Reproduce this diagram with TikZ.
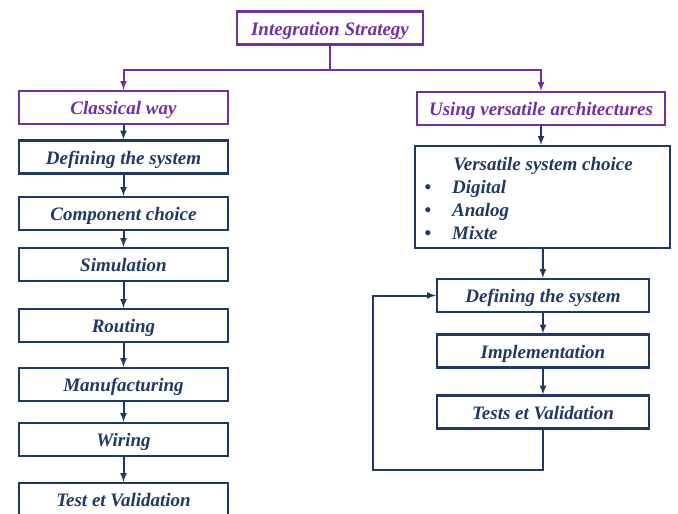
\documentclass[tikz,border=0pt]{standalone}
\usepackage{fontspec}
\setmainfont{Liberation Serif}
\definecolor{stratpurple}{RGB}{112,48,160}
\definecolor{stepnavy}{RGB}{31,56,100}
\tikzset{
  box/.style={draw, line width=2.2pt, minimum height=33pt, inner sep=0pt,
    text height=15pt, text depth=1pt,
    font=\fontsize{19}{23}\selectfont\bfseries\itshape},
  purplebox/.style={box, draw=stratpurple, text=stratpurple},
  navybox/.style={box, draw=stepnavy, text=stepnavy},
  purpleline/.style={line width=2pt, stratpurple},
  navyline/.style={line width=2pt, stepnavy},
}
\begin{document}
\begin{tikzpicture}[>=latex, x=1pt, y=-1pt]
\useasboundingbox (0,0) rectangle (678,514);

\node[purplebox, minimum width=186pt] (strat) at (330,28) {Integration Strategy};
\node[purplebox, minimum width=209pt] (lclass) at (123.5,107.5) {Classical way};
\node[purplebox, minimum width=248pt] (rclass) at (541,108.5) {Using versatile architectures};

% classical way
\node[navybox, minimum width=209pt] (ldef) at (123.5,157) {Defining the system};
\node[navybox, minimum width=209pt] (lcomp) at (123.5,213.5) {Component choice};
\node[navybox, minimum width=209pt] (lsim) at (123.5,264.5) {Simulation};
\node[navybox, minimum width=209pt] (lrout) at (123.5,325.5) {Routing};
\node[navybox, minimum width=209pt] (lmanu) at (123.5,384.5) {Manufacturing};
\node[navybox, minimum width=209pt] (lwir) at (123.5,439.5) {Wiring};
\node[navybox, minimum width=209pt] (ltest) at (123.5,499.5) {Test et Validation};

% versatile architectures
\node[navybox, minimum width=255pt, minimum height=102pt] (vers) at (542.5,197) {};
\node[text=stepnavy, anchor=base, inner sep=0pt, font=\fontsize{19}{23}\selectfont\bfseries\itshape] (verstitle) at (543,170) {Versatile system choice};
\foreach \y/\t in {193/Digital, 216/Analog, 239/Mixte}
{
    \node[text=stepnavy, anchor=base, inner sep=0pt, font=\fontsize{19}{23}\selectfont\bfseries] at (428,\y) {\textbullet};
    \node[text=stepnavy, anchor=base west, inner sep=0pt, font=\fontsize{19}{23}\selectfont\bfseries\itshape] at (452,\y) {\t};
}
\node[navybox, minimum width=212pt] (rdef) at (543,295.5) {Defining the system};
\node[navybox, minimum width=212pt] (rimpl) at (543,351) {Implementation};
\node[navybox, minimum width=212pt] (rtest) at (543,412) {Tests et Validation};

\draw[purpleline] (strat.south)--(330,70);
\draw[purpleline,->] (330,70)-|(lclass.north);
\draw[purpleline,->] (330,70)-|(rclass.north);

\draw[navyline,->] (lclass)--(ldef);
\draw[navyline,->] (ldef)--(lcomp);
\draw[navyline,->] (lcomp)--(lsim);
\draw[navyline,->] (lsim)--(lrout);
\draw[navyline,->] (lrout)--(lmanu);
\draw[navyline,->] (lmanu)--(lwir);
\draw[navyline,->] (lwir)--(ltest);

\draw[navyline,->] (rclass.south)--(rclass.south|-vers.north);
\draw[navyline,->] (vers)--(rdef);
\draw[navyline,->] (rdef)--(rimpl);
\draw[navyline,->] (rimpl)--(rtest);
\draw[navyline,->] (rtest.south)--(543,470)--(373,470)|-(rdef.west);

\end{tikzpicture}
\end{document}
